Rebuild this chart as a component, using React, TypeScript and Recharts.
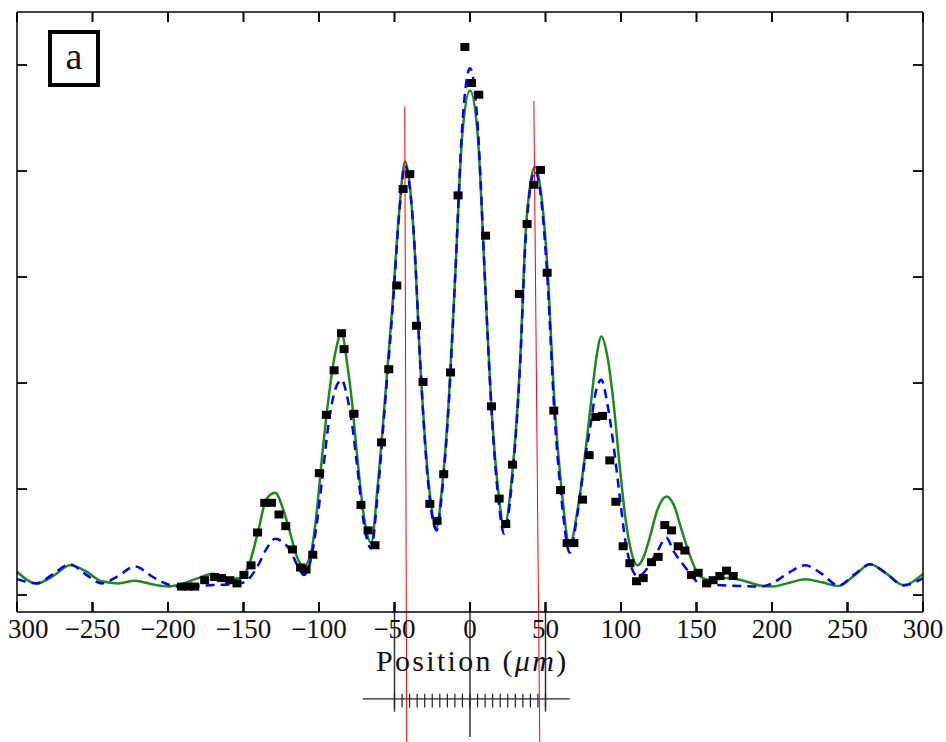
import { ComposedChart, Line, Scatter, XAxis, YAxis, ReferenceLine } from "recharts";

const positions = [
  -300, -287, -276, -265, -255, -244, -233, -222, -210, -200, -192, -180, -170, -160, -152, -146, -140, -135, -129, -124,
  -119, -114, -110, -105, -102, -98, -94, -89, -85, -81.5, -78, -75, -70, -65.5, -61, -56, -51, -47, -43, -40,
  -37, -33, -28, -22, -19, -14, -10, -5, 0,
  5, 10, 14, 19, 22.5, 28, 33, 37, 40, 43, 47, 51, 56, 61, 66, 71, 76, 80, 83.5, 87,
  91, 95, 99, 103, 106, 111, 115, 119, 124, 130, 135, 140, 146, 152, 160, 170, 180, 192, 200, 210,
  222, 233, 244, 255, 265, 276, 287, 300,
];

// solid green model
const solidFit = [
  0.22, 0.11, 0.18, 0.28, 0.23, 0.13, 0.11, 0.135, 0.1, 0.08, 0.1, 0.16, 0.2, 0.15, 0.16, 0.3, 0.62, 0.9, 0.965, 0.82,
  0.58, 0.34, 0.27, 0.42, 0.72, 1.3, 1.82, 2.3, 2.47, 2.2, 1.8, 1.35, 0.72, 0.49, 1.05, 1.9, 2.8, 3.6, 4.09, 3.88,
  3.35, 2.2, 1.15, 0.64, 0.95, 1.85, 2.95, 4.36, 4.76,
  4.36, 2.95, 1.82, 0.95, 0.64, 1.15, 2.15, 3.45, 3.88, 4.04, 3.8, 3.15, 1.8, 0.95, 0.47, 0.78, 1.3, 1.8, 2.22, 2.44,
  2.25, 1.82, 1.24, 0.72, 0.46, 0.28, 0.36, 0.54, 0.8, 0.93, 0.85, 0.62, 0.36, 0.18, 0.14, 0.16, 0.14, 0.09, 0.08, 0.11,
  0.15, 0.12, 0.085, 0.19, 0.29, 0.2, 0.095, 0.2,
];

// dashed blue model
const dashedFit = [
  0.15, 0.11, 0.2, 0.29, 0.2, 0.11, 0.18, 0.27, 0.17, 0.1, 0.08, 0.085, 0.095, 0.1, 0.11, 0.16, 0.29, 0.43, 0.53, 0.5,
  0.42, 0.27, 0.19, 0.36, 0.62, 1.08, 1.58, 1.95, 2.03, 1.88, 1.6, 1.25, 0.65, 0.44, 0.98, 1.85, 2.75, 3.58, 4.05, 3.86,
  3.35, 2.2, 1.1, 0.61, 0.9, 1.82, 2.95, 4.45, 4.97,
  4.45, 2.95, 1.8, 0.88, 0.58, 1.1, 2.12, 3.4, 3.85, 4.0, 3.75, 3.05, 1.7, 0.85, 0.4, 0.75, 1.27, 1.62, 1.93, 2.03,
  1.8, 1.42, 0.95, 0.5, 0.3, 0.18, 0.21, 0.29, 0.41, 0.54, 0.41, 0.31, 0.2, 0.11, 0.1, 0.09, 0.085, 0.08, 0.11, 0.2,
  0.28, 0.2, 0.09, 0.2, 0.29, 0.2, 0.09, 0.16,
];

// measured points (black squares)
const measuredX = [
  -191.1, -186.8, -182.3, -175.7, -169.1, -164.6, -159.1, -154.3, -149.7, -145.0, -140.7, -135.9, -131.5, -126.5, -122.0, -117.6,
  -112.2, -108.6, -104.1, -99.8, -95.1, -90.0, -85.1, -83.4, -76.8, -72.2, -67.5, -62.9, -58.6, -53.8, -48.5, -44.3,
  -39.9, -35.4, -31.1, -26.6, -21.8, -17.4, -12.9, -7.9, -3.4, 1.0, 5.8, 10.3, 14.2, 19.3, 23.7, 28.2,
  32.7, 37.8, 42.3, 46.7, 51.1, 55.5, 60.0, 64.3, 68.8, 74.5, 78.9, 83.3, 87.8, 92.6, 96.6, 101.4,
  105.9, 110.3, 114.7, 120.2, 124.6, 129.0, 133.5, 137.9, 142.3, 146.7, 151.1, 156.7, 161.0, 165.5, 169.9, 174.3,
];
const measuredY = [
  0.08, 0.08, 0.08, 0.14, 0.17, 0.16, 0.14, 0.11, 0.19, 0.28, 0.59, 0.87, 0.87, 0.76, 0.65, 0.43,
  0.26, 0.24, 0.38, 1.15, 1.7, 2.12, 2.47, 2.32, 1.71, 0.85, 0.61, 0.47, 1.44, 2.13, 2.92, 3.83,
  3.97, 2.54, 2.01, 0.86, 0.7, 1.14, 2.1, 3.77, 5.17, 4.83, 4.72, 3.39, 1.78, 0.91, 0.67, 1.23,
  2.84, 3.5, 3.87, 4.01, 3.04, 1.74, 0.99, 0.49, 0.49, 0.9, 1.32, 1.68, 1.69, 1.27, 0.88, 0.46,
  0.3, 0.13, 0.16, 0.31, 0.36, 0.66, 0.61, 0.46, 0.42, 0.19, 0.21, 0.11, 0.14, 0.18, 0.23, 0.18,
];

const xTicks = [-300, -250, -200, -150, -100, -50, 0, 50, 100, 150, 200, 250, 300];
const xTickLabels = ["300", "\u2212250", "\u2212200", "\u2212150", "\u2212100", "\u221250", "0", "50", "100", "150", "200", "250", "300"];
const yTicks = [0, 1, 2, 3, 4, 5];
const yDomain = [-0.16, 5.5];

// red guide lines (top point, bottom point)
const redTop = [
  { x: -43.2, y: 4.61 },
  { x: 42.3, y: 4.66 },
];
const redBottom = [
  { x: -41.9, y: -1.39 },
  { x: 46.2, y: -1.39 },
];

// scale bar drawn under the axis
const rulerLongTicks = [-50, 0, 50];
const rulerLongEnds = [-1.1, -1.34, -1.1];
const rulerShortTicks = [-50, -45, -40, -35, -30, -25, -20, -15, -10, -5, 0, 5, 10, 15, 20, 25, 30, 35, 40, 45, 50];
const rulerSpan = [-71, 66];
const rulerLevel = -0.98;

const rows = positions.map((x, i) => ({ x, solid: solidFit[i], dashed: dashedFit[i] }));
const squares = measuredX.map((x, i) => ({ x, y: measuredY[i] }));
const bottomTickPts = xTicks.map((x) => ({ x, y: yDomain[0] }));
const topTickPts = xTicks.map((x) => ({ x, y: yDomain[1] }));

const serif = '"Liberation Serif", "Times New Roman", serif';
const frame = { stroke: "#000", strokeWidth: 1.5 };
const TICK = 10;

function SquareMark(props: any) {
  const { cx, cy } = props;
  if (cx == null || cy == null) return null;
  return <rect x={cx - 4.5} y={cy - 4} width={9} height={8} fill="#000" />;
}

// filled bars instead of stroked lines for the vertical tick marks
function UpTick(props: any) {
  const { cx, cy } = props;
  if (cx == null || cy == null) return null;
  return <rect x={cx - 1} y={cy - TICK} width={2} height={TICK} fill="#000" />;
}

function DownTick(props: any) {
  const { cx, cy } = props;
  if (cx == null || cy == null) return null;
  return <rect x={cx - 1} y={cy} width={2} height={TICK} fill="#000" />;
}

function BottomLabel(props: any) {
  const { x, y, payload } = props;
  const i = xTicks.indexOf(payload.value);
  const first = i === 0;
  return (
    <g>
      <rect x={x - 1} y={y - 7 - TICK} width={2} height={TICK} fill="#000" />
      <text
        x={first ? x - 9 : x}
        y={y}
        dy="0.71em"
        textAnchor={first ? "start" : "middle"}
        fill="#111"
        fontSize={27}
        fontFamily={serif}
      >
        {xTickLabels[i]}
      </text>
    </g>
  );
}

function LeftTick(props: any) {
  const { x, y } = props;
  return <line x1={x} x2={x + TICK} y1={y} y2={y} stroke="#000" strokeWidth={1.8} />;
}

function RightTick(props: any) {
  const { x, y } = props;
  return <line x1={x} x2={x - TICK} y1={y} y2={y} stroke="#000" strokeWidth={1.8} />;
}

export default function App() {
  return (
    <div style={{ position: "absolute", left: 0, top: 0, width: 946, height: 742, background: "#fff" }}>
      <ComposedChart width={946} height={742} data={rows} margin={{ top: 11, right: 22, bottom: 90, left: 16 }}>
        <XAxis
          xAxisId="b"
          dataKey="x"
          type="number"
          domain={[-300, 300]}
          ticks={xTicks}
          interval={0}
          height={40}
          axisLine={frame}
          tickLine={false}
          tickSize={0}
          tickMargin={7}
          tick={BottomLabel}
        />
        <XAxis
          xAxisId="t"
          orientation="top"
          dataKey="x"
          type="number"
          domain={[-300, 300]}
          ticks={xTicks}
          interval={0}
          height={1}
          axisLine={frame}
          tickLine={false}
          tick={false}
        />
        <YAxis
          yAxisId="l"
          type="number"
          domain={yDomain}
          ticks={yTicks}
          interval={0}
          width={1}
          axisLine={frame}
          tickLine={false}
          tickSize={0}
          tickMargin={0}
          tick={LeftTick}
        />
        <YAxis
          yAxisId="r"
          orientation="right"
          type="number"
          domain={yDomain}
          ticks={yTicks}
          interval={0}
          width={1}
          axisLine={frame}
          tickLine={false}
          tickSize={0}
          tickMargin={0}
          tick={RightTick}
        />
        {/* invisible copy bound to the top/right axes so they are laid out */}
        <Line
          xAxisId="t"
          yAxisId="r"
          type="monotone"
          dataKey="solid"
          stroke="none"
          strokeWidth={0}
          dot={false}
          activeDot={false}
          legendType="none"
          isAnimationActive={false}
        />
        <Line xAxisId="b" yAxisId="l" type="monotone" dataKey="solid" stroke="#1e8a1e" strokeWidth={2.5} dot={false} isAnimationActive={false} />
        <Line
          xAxisId="b"
          yAxisId="l"
          type="monotone"
          dataKey="dashed"
          stroke="#0000ff"
          strokeWidth={2.5}
          strokeDasharray="9 6"
          dot={false}
          isAnimationActive={false}
        />
        <Scatter xAxisId="b" yAxisId="l" data={squares} dataKey="y" shape={SquareMark} isAnimationActive={false} />

        {/* inward ticks on bottom and top edges */}
        <Scatter xAxisId="b" yAxisId="l" data={bottomTickPts} dataKey="y" shape={UpTick} isAnimationActive={false} legendType="none" />
        <Scatter xAxisId="b" yAxisId="l" data={topTickPts} dataKey="y" shape={DownTick} isAnimationActive={false} legendType="none" />

        {rulerLongTicks.map((t, i) => (
          <ReferenceLine
            key={"long" + t}
            xAxisId="b"
            yAxisId="l"
            ifOverflow="visible"
            segment={[{ x: t, y: yDomain[0] }, { x: t, y: rulerLongEnds[i] }]}
            stroke="#333"
            strokeWidth={1.5}
          />
        ))}
        <ReferenceLine
          xAxisId="b"
          yAxisId="l"
          ifOverflow="visible"
          segment={[{ x: rulerSpan[0], y: rulerLevel }, { x: rulerSpan[1], y: rulerLevel }]}
          stroke="#222"
          strokeWidth={1.2}
        />
        {rulerShortTicks.map((t) => (
          <ReferenceLine
            key={"short" + t}
            xAxisId="b"
            yAxisId="l"
            ifOverflow="visible"
            segment={[{ x: t, y: -0.93 }, { x: t, y: -1.06 }]}
            stroke="#222"
            strokeWidth={1.2}
          />
        ))}
        {redTop.map((p, i) => (
          <ReferenceLine
            key={"red" + i}
            xAxisId="b"
            yAxisId="l"
            ifOverflow="visible"
            segment={[p, redBottom[i]]}
            stroke="#ff0000"
            strokeWidth={1}
          />
        ))}
      </ComposedChart>

      <div
        style={{
          position: "absolute",
          left: 48,
          top: 30,
          width: 52,
          height: 57,
          boxSizing: "border-box",
          border: "4.5px solid #000",
          background: "#fff",
          fontFamily: serif,
          fontSize: 38,
          lineHeight: "44px",
          textAlign: "center",
          color: "#111",
        }}
      >
        a
      </div>
      <div
        style={{
          position: "absolute",
          left: 376,
          top: 644,
          fontFamily: serif,
          fontSize: 30,
          letterSpacing: 2.3,
          whiteSpace: "nowrap",
          color: "#111",
        }}
      >
        Position (<i>μm</i>)
      </div>
    </div>
  );
}
